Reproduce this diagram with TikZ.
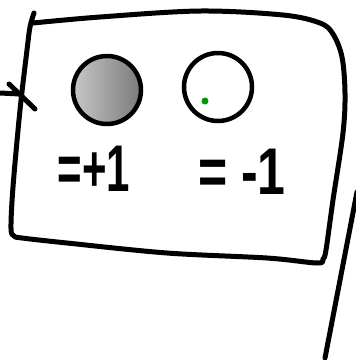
\documentclass[tikz,border=0pt]{standalone}
\usepackage{fontspec}
\setmainfont{Liberation Sans}
\usepackage{graphicx}

\begin{document}
\begin{tikzpicture}
     [
     x=1pt, y=-1pt,
     strich/.style = {line width=5pt, line cap=round, line join=round},
     kreis/.style = {draw, line width=4.5pt, circle, minimum size=68pt, inner sep=0pt},
     wert/.style = {font=\fontsize{40}{40}\selectfont\bfseries, inner sep=0pt}
     ]
     \useasboundingbox (0,0) rectangle (356,360);

     % the sketched box
     \draw[strich] plot[smooth, tension=0.55] coordinates {(34,13) (30,27) (27,50) (20,110)
       (13,187) (11,228) (14,236) (22,238) (67,243) (167,253) (267,258) (317,263) (323,259)
       (326,250) (333,200) (343,133) (345,93) (342,57) (333,34) (320,23) (283,15) (200,11)
       (100,17) (33,23)};

     \node[kreis, left color=black!22, right color=black!52] (voll) at (107,90) {};
     \node[kreis, fill=white] (leer) at (218,87) {};
     \node[circle, fill=green!60!black, inner sep=0pt, minimum size=7pt] (punkt) at (205,101) {};

     \node[wert] (plus) at (94,169) {\scalebox{1.05}[1.65]{=+1}};
     \node[wert] (minus) at (242,172) {\scalebox{1.25}[1.65]{= -1}};

     % incoming stroke on the left
     \coordinate (ein) at (0,93);
     \coordinate (ecke) at (20,94);
     \coordinate (haken) at (9,84);
     \coordinate (hakenende) at (35,109);
     \draw[strich] (ein) -- (ecke);
     \draw[strich] (haken) -- (hakenende);

     % line on the right
     \coordinate (oben) at (357,192);
     \coordinate (unten) at (325,358);
     \draw[strich] (oben) -- (unten);
\end{tikzpicture}
\end{document}
